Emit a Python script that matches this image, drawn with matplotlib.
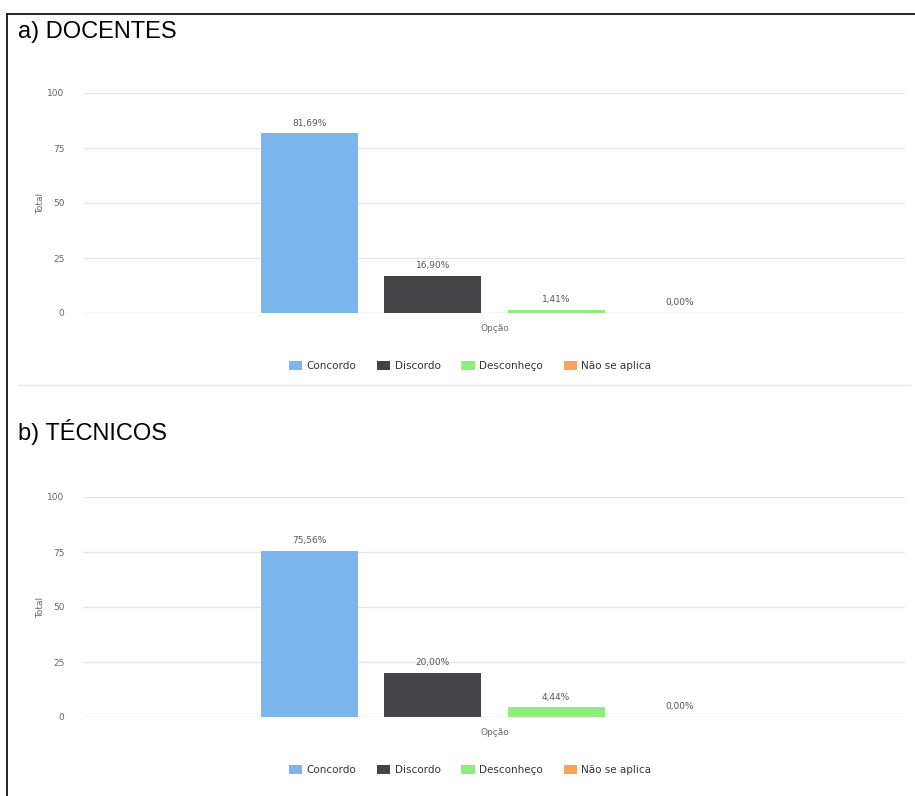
import matplotlib.pyplot as plt
from matplotlib.lines import Line2D
from matplotlib.patches import Patch

W, H = 915, 796

categories = ['Concordo', 'Discordo', 'Desconheço', 'Não se aplica']
colors = ['#7cb5ec', '#434348', '#90ed7d', '#f7a35c']
docentes = [81.69, 16.90, 1.41, 0.00]
tecnicos = [75.56, 20.00, 4.44, 0.00]
yticks = [0, 25, 50, 75, 100]

plt.rcParams['font.family'] = 'DejaVu Sans'

fig = plt.figure(figsize=(W / 100, H / 100), dpi=100)


def px_axes(left, top, right, bottom):
    return fig.add_axes([left / W, 1 - bottom / H, (right - left) / W, (bottom - top) / H])


def draw_panel(values, top, bottom, title, title_y, legend_y):
    ax = px_axes(84, top, 905, bottom)
    width = 0.118
    step = 0.15
    for i, (cat, v) in enumerate(zip(categories, values)):
        x = (i - 1.5) * step
        ax.bar(x, v, width=width, color=colors[i], zorder=3)
        ax.annotate(f'{v:.2f}%'.replace('.', ','), (x, v), xytext=(0, 4),
                    textcoords='offset points', ha='center', va='bottom',
                    fontsize=6.5, color='#555555', zorder=4)
    ax.set_xlim(-0.5, 0.5)
    ax.set_ylim(0, 100)
    ax.set_yticks(yticks)
    ax.set_xticks([])
    ax.tick_params(axis='y', length=0, labelsize=6.5, labelcolor='#666666', pad=14)
    ax.grid(axis='y', color='#e6e6e6', linewidth=1, zorder=0)
    for s in ax.spines.values():
        s.set_visible(False)
    ax.axhline(0, color='#dde2ea', linewidth=1, zorder=2)
    ax.set_ylabel('Total', fontsize=6.5, color='#666666', labelpad=1.5)
    ax.set_xlabel('Opção', fontsize=6.5, color='#666666', labelpad=8)
    fig.text(18 / W, 1 - title_y / H, title, fontsize=17, family='Liberation Sans',
             ha='left', va='center', color='black')
    handles = [Patch(facecolor=c, edgecolor='none') for c in colors]
    fig.legend(handles, categories, loc='center', bbox_to_anchor=(470 / W, 1 - legend_y / H),
               ncol=4, frameon=False, fontsize=7.5, labelcolor='#333333',
               handlelength=1.3, handleheight=1.0, columnspacing=2.0, handletextpad=0.4)


draw_panel(docentes, 93, 313, 'a) DOCENTES', 32, 366)
draw_panel(tecnicos, 497, 717, 'b) TÉCNICOS', 432, 770)

# borders and separator
fig.add_artist(Line2D([7 / W, 1], [1 - 14 / H, 1 - 14 / H], color='black', linewidth=1.2))
fig.add_artist(Line2D([7 / W, 7 / W], [0, 1 - 14 / H], color='black', linewidth=1.2))
fig.add_artist(Line2D([18 / W, 910 / W], [1 - 385 / H, 1 - 385 / H], color='#e6e6e6', linewidth=1))

fig.savefig('out.png', dpi=100)
